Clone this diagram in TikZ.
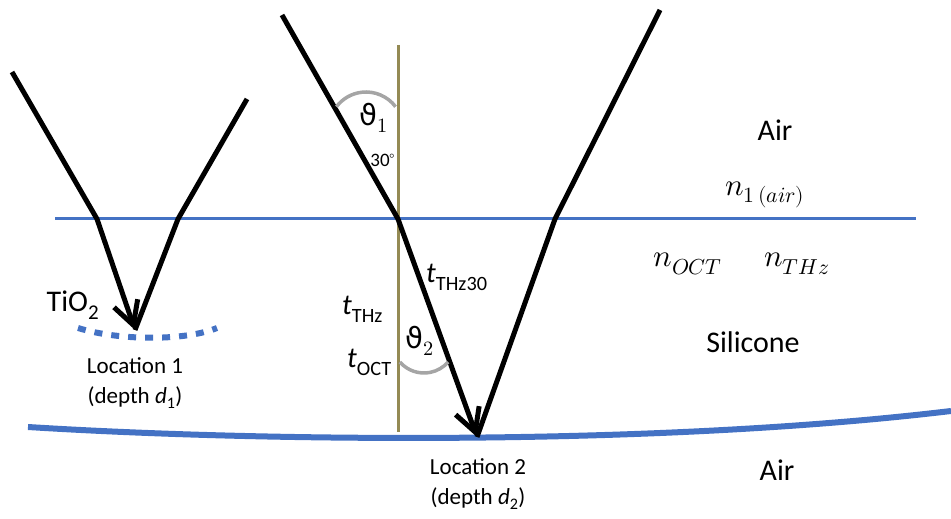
\documentclass[tikz,border=0pt]{standalone}
\usepackage{fontspec}
\usepackage{unicode-math}
\setmainfont{Carlito}
\setmathfont{Latin Modern Math}
\newfontfamily\thetafont{DejaVu Sans}
\usepackage{xcolor}
\usepackage{tikz}
\usetikzlibrary{arrows.meta}

\definecolor{layerblue}{RGB}{68,114,196}
\definecolor{normalolive}{RGB}{148,138,84}
\definecolor{arcgrey}{RGB}{165,165,165}

\begin{document}
\begin{tikzpicture}[
  x=1pt, y=1pt,
  ray/.style={line width=5pt, black, line join=miter},
  rayarrow/.style={ray, -{Straight Barb[length=23pt, width=25pt]}},
  interface/.style={layerblue, line width=3pt},
  surface/.style={layerblue, line width=6pt},
  normalline/.style={normalolive, line width=3pt},
  anglearc/.style={arcgrey, line width=3.5pt},
  tiolayer/.style={layerblue, line width=6pt, dash pattern=on 8pt off 9pt},
  medium/.style={font=\fontsize{30}{34}\selectfont, inner sep=0pt},
  index/.style={font=\fontsize{31}{34}\selectfont, inner sep=0pt},
  sym/.style={font=\fontsize{29}{32}\selectfont, inner sep=0pt},
  caption/.style={font=\fontsize{23}{30}\selectfont, align=center, inner sep=0pt}
]
\useasboundingbox (0,0) rectangle (951,519);

% ==================== INTERFACES ====================
\coordinate (topL) at (55,300);
\coordinate (topR) at (916,300);
\draw[interface] (topL) -- (topR);

\coordinate (botL) at (28,92);
\coordinate (botR) at (951,108);
\draw[surface] (botL) .. controls (250,78) and (650,72) .. (botR);

% TiO2 layer (dotted)
\coordinate (dotL) at (78,191);
\coordinate (dotR) at (217,191);
\draw[tiolayer] (dotL) .. controls (120,178) and (185,178) .. (dotR);

% Normal
\coordinate (normT) at (398,474);
\coordinate (normB) at (398,87);
\draw[normalline] (normT) -- (normB);

% ==================== RAYS ====================
% Location 1
\coordinate (inA) at (12,447);
\coordinate (hitA) at (97,300);
\coordinate (tipA) at (135,189);
\coordinate (outA) at (178,300);
\coordinate (endA) at (247,420);
\draw[rayarrow] (inA) -- (hitA) -- (tipA);
\draw[ray] (tipA) -- (outA) -- (endA);

% Location 2
\coordinate (inB) at (282,504);
\coordinate (hitB) at (398,300);
\coordinate (tipB) at (477,82);
\coordinate (outB) at (555,300);
\coordinate (endB) at (660,509);
\draw[rayarrow] (inB) -- (hitB) -- (tipB);
\draw[ray] (tipB) -- (outB) -- (endB);

% Angle arcs
\coordinate (arcA) at (366,390);
\coordinate (arcB) at (424,178);
\draw[anglearc] ([shift={(37:37)}]arcA) arc[start angle=37, end angle=143, radius=37];
\draw[anglearc] ([shift={(221:32)}]arcB) arc[start angle=221, end angle=319, radius=32];

% ==================== LABELS ====================
\node[medium] (airtop) at (775,389) {Air};
\node[index] (nair) at (765,324) {$n_{1\,(air)}$};
\node[index] (noct) at (688,255) {$n_{OCT}$};
\node[index] (nthz) at (797,255) {$n_{THz}$};
\node[medium] (silicone) at (753,177) {Silicone};
\node[medium] (airbot) at (777,49) {Air};

\node[sym] (theta1) at (374,401) {{\thetafont ϑ}$_1$};
\node[font=\fontsize{19}{22}\selectfont, inner sep=0pt] (angle30) at (383,359) {30$^{\circ}$};
\node[sym] (theta2) at (420,178) {{\thetafont ϑ}$_2$};

\node[sym, anchor=base west] (tthz30) at (426,236) {\textit{t}\textsubscript{THz30}};
\node[sym, anchor=base west] (tthz) at (342,204) {\textit{t}\textsubscript{THz}};
\node[sym, anchor=base west] (toct) at (347,151) {\textit{t}\textsubscript{OCT}};

\node[font=\fontsize{30}{34}\selectfont, inner sep=0pt] (tio2) at (73,214) {TiO\textsubscript{2}};
\node[caption] (loc1) at (135,136) {Location 1\\(depth \textit{d}\textsubscript{1})};
\node[caption] (loc2) at (478,35) {Location 2\\(depth \textit{d}\textsubscript{2})};
\end{tikzpicture}
\end{document}
